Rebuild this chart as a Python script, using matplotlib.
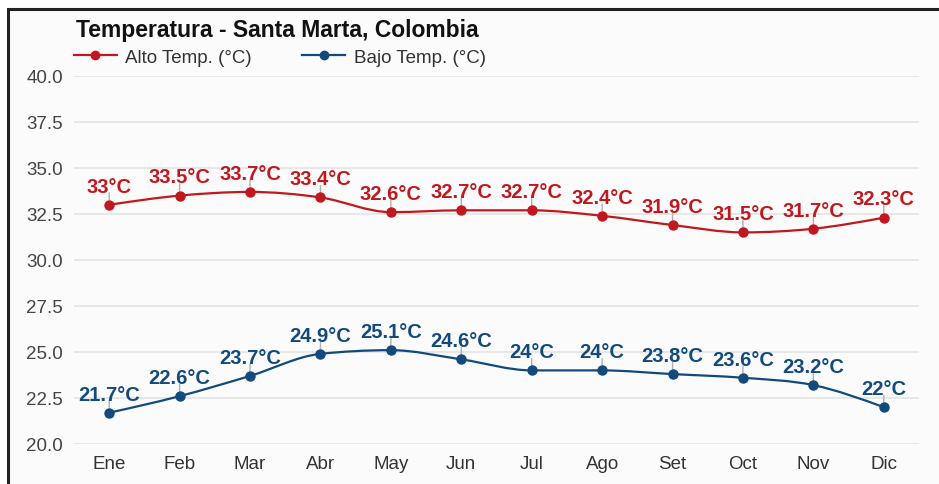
import numpy as np
import matplotlib.pyplot as plt
from matplotlib.path import Path
from matplotlib.patches import PathPatch, Rectangle
from matplotlib.lines import Line2D

plt.rcParams['font.family'] = ['Liberation Sans', 'DejaVu Sans']

meses = ['Ene', 'Feb', 'Mar', 'Abr', 'May', 'Jun', 'Jul', 'Ago', 'Set', 'Oct', 'Nov', 'Dic']
alto = [33, 33.5, 33.7, 33.4, 32.6, 32.7, 32.7, 32.4, 31.9, 31.5, 31.7, 32.3]
bajo = [21.7, 22.6, 23.7, 24.9, 25.1, 24.6, 24, 24, 23.8, 23.6, 23.2, 22]
yticks = [20.0, 22.5, 25.0, 27.5, 30.0, 32.5, 35.0, 37.5, 40.0]

ROJO = '#c0181e'
AZUL = '#124a7d'


def tangentes(x, y):
    # monotone cubic slopes (Fritsch-Carlson, same as d3 curveMonotoneX)
    x = np.asarray(x, float)
    y = np.asarray(y, float)
    n = len(x)
    h = np.diff(x)
    s = np.diff(y) / h
    t = np.zeros(n)
    for i in range(1, n - 1):
        p = (s[i - 1] * h[i] + s[i] * h[i - 1]) / (h[i - 1] + h[i])
        t[i] = (np.sign(s[i - 1]) + np.sign(s[i])) * min(abs(s[i - 1]), abs(s[i]), 0.5 * abs(p))
    t[0] = (3 * s[0] - t[1]) / 2
    t[-1] = (3 * s[-1] - t[-2]) / 2
    return t


def curva(x, y):
    t = tangentes(x, y)
    verts = [(x[0], y[0])]
    codes = [Path.MOVETO]
    for i in range(len(x) - 1):
        dx = (x[i + 1] - x[i]) / 3
        verts += [(x[i] + dx, y[i] + dx * t[i]),
                  (x[i + 1] - dx, y[i + 1] - dx * t[i + 1]),
                  (x[i + 1], y[i + 1])]
        codes += [Path.CURVE4] * 3
    return Path(verts, codes)


fig = plt.figure(figsize=(9.39, 4.85), dpi=100)
fig.patch.set_facecolor('white')

# outer frame of the card
fig.patches.append(Rectangle((8 / 939, -0.05), 1.0, (485 - 10) / 485 + 0.05,
                             transform=fig.transFigure, facecolor='#fbfbfb',
                             edgecolor='#222222', linewidth=2.2, zorder=-1))

ax = fig.add_axes([74 / 939, (485 - 445) / 485, (919 - 74) / 939, (445 - 77) / 485])
ax.set_facecolor('none')

x = np.arange(len(meses))
for serie, color in [(alto, ROJO), (bajo, AZUL)]:
    ax.add_patch(PathPatch(curva(x, serie), facecolor='none', edgecolor=color, lw=1.6, zorder=3))
    ax.plot(x, serie, 'o', color=color, ms=6.5, zorder=4)
    for xi, v in zip(x, serie):
        ax.annotate('', xy=(xi, v), xytext=(0, 8.5), textcoords='offset points',
                    arrowprops=dict(arrowstyle='-', color='#b0b0b0', lw=1, shrinkA=0, shrinkB=3.5),
                    zorder=2)
        ax.annotate(f'{v:g}°C', xy=(xi, v), xytext=(0, 9.5), textcoords='offset points',
                    ha='center', va='baseline', color=color, fontsize=14.5,
                    fontweight='bold', zorder=5)

ax.set_xlim(-0.5, len(meses) - 0.5)
ax.set_ylim(20, 40)
ax.set_yticks(yticks)
ax.set_yticklabels([f'{v:.1f}' for v in yticks])
ax.set_xticks(x)
ax.set_xticklabels(meses)
ax.grid(axis='y', color='#e3e3e3', lw=1.2)
ax.set_axisbelow(True)
ax.tick_params(axis='y', length=0, pad=8, labelsize=13.5, labelcolor='#444444')
ax.tick_params(axis='x', length=0, pad=8, labelsize=13.5, labelcolor='#333333')
for sp in ax.spines.values():
    sp.set_visible(False)

fig.text(76 / 939, 1 - 30 / 485, 'Temperatura - Santa Marta, Colombia', fontsize=16.5,
         fontweight='bold', color='#111111', va='center', ha='left')

handles = [Line2D([], [], color=ROJO, lw=1.6, marker='o', ms=6),
           Line2D([], [], color=AZUL, lw=1.6, marker='o', ms=6)]
fig.legend(handles, ['Alto Temp. (°C)', 'Bajo Temp. (°C)'], loc='center left',
           bbox_to_anchor=(66 / 939, 1 - 58 / 485), ncol=2, frameon=False,
           fontsize=13.5, handlelength=2.3, handletextpad=0.45, columnspacing=2.7,
           labelcolor='#333333', borderaxespad=0)

fig.savefig('out.png', dpi=100)
